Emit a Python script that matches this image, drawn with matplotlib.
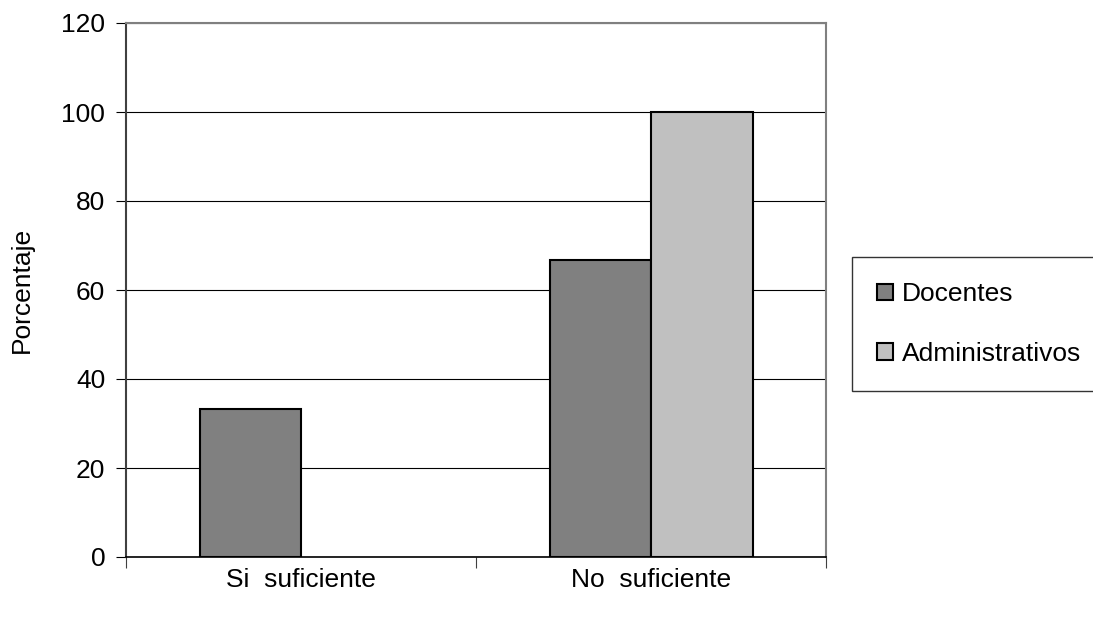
import numpy as np
import matplotlib
matplotlib.use("Agg")
from matplotlib import pyplot as plt
from matplotlib.patches import Patch

# data
categorias = ["Si  suficiente", "No  suficiente"]
docentes = [33.3, 66.7]
administrativos = [0, 100]
series = ["Docentes", "Administrativos"]
colores = ["#808080", "#c0c0c0"]

plt.rcParams['font.family'] = ['Liberation Sans', 'DejaVu Sans']
fs = 19

fig = plt.figure(figsize=(10.93, 6.18), dpi=100)
ax = fig.add_axes([126/1093, 61/618, 700/1093, 534/618])

x = np.arange(len(categorias))
w = 0.29
b1 = ax.bar(x - w/2, docentes, w, color=colores[0], edgecolor="black", linewidth=1.5,
            zorder=3)
b2 = ax.bar(x + w/2, administrativos, w, color=colores[1], edgecolor="black", linewidth=1.5,
            zorder=3)
# zero bars are not visible in the original
for p in list(b1) + list(b2):
    if p.get_height() == 0:
        p.set_visible(False)

ax.set_xlim(-0.5, 1.5)
ax.set_ylim(0, 120)
ax.set_yticks(range(0, 121, 20))
ax.yaxis.grid(True, color="black", linewidth=0.8)
ax.set_axisbelow(True)

# category ticks sit between groups, labels centered
ax.set_xticks([-0.5, 0.5, 1.5])
ax.set_xticklabels([])
ax.set_xticks(x, minor=True)
ax.set_xticklabels(categorias, minor=True, fontsize=fs)
ax.tick_params(axis="x", which="minor", length=0, pad=8)
ax.tick_params(axis="x", which="major", length=8, color="#404040")
ax.tick_params(axis="y", length=7, labelsize=fs, pad=8, color="black")

for s in ["top", "right"]:
    ax.spines[s].set_color("#808080")
    ax.spines[s].set_linewidth(1.5)
ax.spines["left"].set_color("#404040")
ax.spines["left"].set_linewidth(1.5)
ax.spines["bottom"].set_color("black")
ax.spines["bottom"].set_linewidth(1.2)

ax.set_ylabel("Porcentaje", fontsize=fs, labelpad=20)

handles = [Patch(facecolor=c, edgecolor="black", linewidth=1.5) for c in colores]
leg = fig.legend(handles=handles, labels=series, loc="center left",
                 bbox_to_anchor=(852/1093, 1 - 324/618),
                 fontsize=fs, frameon=True, fancybox=False, edgecolor="black",
                 handlelength=0.6, handleheight=0.6, handletextpad=0.35,
                 labelspacing=1.35, borderpad=0.95, borderaxespad=0)
leg.get_frame().set_linewidth(1.0)

fig.savefig("out.png", dpi=100)
